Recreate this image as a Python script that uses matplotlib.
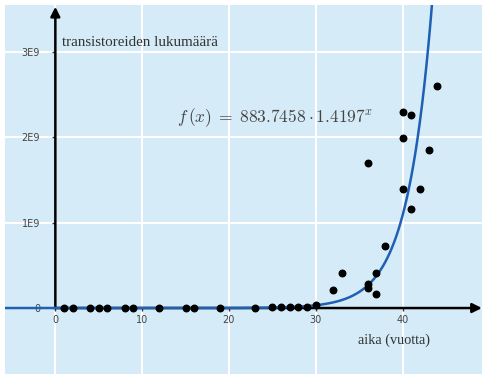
import numpy as np
import matplotlib
matplotlib.use("Agg")
import matplotlib.pyplot as plt

# --- data (aika vuosina, transistorien lukumaara) ---
vuosi = [1, 2, 4, 5, 6, 8, 9, 12, 15, 16, 19, 23, 25, 26, 27, 28, 29, 30,
         32, 33, 36, 36, 36, 37, 37, 38, 40, 40, 40, 41, 41, 42, 43, 44]
lukum = [3.5e3, 4.5e3, 6.5e3, 9e3, 2.9e4, 5.5e4, 1.34e5, 2.75e5, 1.18e6, 3.1e6,
         5.5e6, 6.0e6, 7.5e6, 9.5e6, 1.1e7, 8.0e6, 1.5e7, 3.5e7,
         2.14e8, 4.05e8, 2.77e8, 2.3e8, 1.696e9, 4.05e8, 1.6e8, 7.25e8,
         1.395e9, 1.996e9, 2.296e9, 1.155e9, 2.265e9, 1.395e9, 1.856e9, 2.597e9]
a, b = 883.7458, 1.4197

xticks = [0, 10, 20, 30, 40]
yticks = [0, 1e9, 2e9, 3e9]
ytick_labels = ["0", "1E9", "2E9", "3E9"]

bg = "#d5ebf7"
fig = plt.figure(figsize=(4.82, 3.74), dpi=100)
fig.patch.set_facecolor("white")
ax = fig.add_axes([5 / 482, 0, 477 / 482, 369 / 374])
ax.set_facecolor(bg)
ax.set_xlim(-5.8, 49.16)
ax.set_ylim(-0.773e9, 3.551e9)

for s in ax.spines.values():
    s.set_color("none")
ax.spines["left"].set_position(("data", 0))
ax.spines["bottom"].set_position(("data", 0))

ax.set_xticks(xticks)
ax.set_yticks(yticks)
ax.set_yticklabels(ytick_labels)
ax.tick_params(axis="both", length=2, width=1, color="#333333",
               labelsize=7, labelcolor="#444444")
ax.tick_params(axis="y", pad=9)
ax.tick_params(axis="x", pad=3)
ax.grid(True, color="white", linewidth=1.5)
ax.set_axisbelow(True)

# akselit nuolilla
ax.annotate("", xy=(0, 3.53e9), xytext=(0, 0),
            arrowprops=dict(arrowstyle="-|>", color="black", lw=1.8,
                            mutation_scale=14, shrinkA=0, shrinkB=0))
ax.annotate("", xy=(49.15, 0), xytext=(0, 0),
            arrowprops=dict(arrowstyle="-|>", color="black", lw=1.8,
                            mutation_scale=14, shrinkA=0, shrinkB=0))

# sovitettu eksponenttifunktio
xs = np.linspace(-6, 44, 600)
ax.plot(xs, a * b ** xs, color="#1f60b3", lw=1.8, zorder=4)
ax.scatter(vuosi, lukum, s=22, color="black", zorder=5)

ax.text(0.77, 3.117e9, "transistoreiden lukumäärä", family="Liberation Serif",
        fontsize=10.8, color="#333333", va="center", ha="left")
ax.text(34.9, -0.375e9, "aika (vuotta)", family="Liberation Serif",
        fontsize=10.3, color="#333333", va="center", ha="left")
plt.rcParams["mathtext.fontset"] = "cm"
ax.text(14.0, 2.23e9, r"$f\,(x)\;=\;883.7458\cdot 1.4197^{x}$",
        fontsize=12.5, color="#444444", va="center", ha="left")

plt.savefig("out.png", dpi=100, facecolor="white")
